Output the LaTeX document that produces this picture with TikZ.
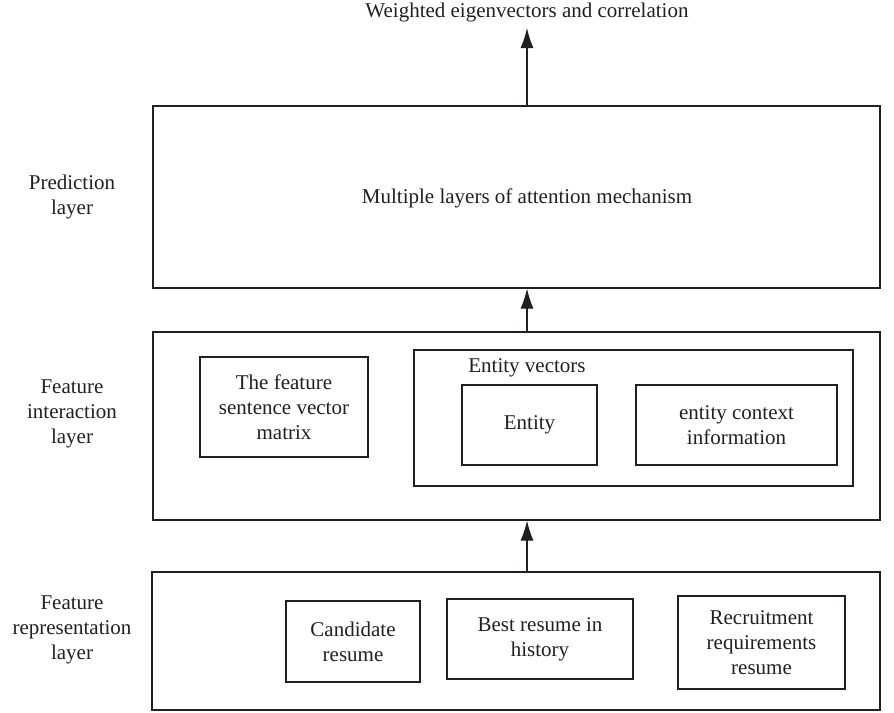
\documentclass[tikz,border=0pt]{standalone}
\usepackage{fontspec}
\setmainfont{Liberation Serif}
\usetikzlibrary{arrows.meta}
\definecolor{ink}{HTML}{231F20}

\begin{document}
\begin{tikzpicture}[x=0.5pt, y=-0.5pt,
  every node/.style={font=\fontsize{10.5}{12.5}\selectfont, text=ink, align=center},
  layerbox/.style={draw=ink, line width=0.6pt, inner sep=0pt, minimum width=363.5pt},
  itembox/.style={draw=ink, line width=0.6pt, inner sep=2pt},
  flow/.style={draw=ink, line width=0.6pt, -{Latex[length=10pt, width=6.5pt]}}]

  \useasboundingbox (0, 0) rectangle (894, 712);

  %% three layers
  \node[layerbox, minimum height=91pt] (pred) at (516.5, 197) {};
  \node[layerbox, minimum height=94pt] (inter) at (516.5, 426) {};
  \node[layerbox, minimum height=69pt, minimum width=364pt] (repr) at (516, 641) {};

  %% layer names
  \node (predname) at (72, 197) {Prediction\\layer};
  \node (intername) at (72, 414) {Feature\\interaction\\layer};
  \node (reprname) at (72, 630) {Feature\\representation\\layer};

  %% prediction layer
  \node (title) at (527, 12) {Weighted eigenvectors and correlation};
  \node (attn) at (527, 198) {Multiple layers of attention mechanism};
  \coordinate (out) at (527, 28);

  %% interaction layer
  \node[itembox, minimum width=84pt, minimum height=50pt] (sent) at (284, 407)
    {The feature\\sentence vector\\matrix};
  \node[itembox, minimum width=219.5pt, minimum height=68pt] (entvec) at (633.5, 418) {};
  \node (entvecname) at (527, 368) {Entity vectors};
  \node[itembox, minimum width=67.5pt, minimum height=40pt] (entity) at (529.5, 425) {Entity};
  \node[itembox, minimum width=100.5pt, minimum height=40pt] (context) at (736.5, 425)
    {entity context\\information};

  %% representation layer
  \node[itembox, minimum width=67pt, minimum height=40.5pt] (cand) at (353, 641.5)
    {Candidate\\resume};
  \node[itembox, minimum width=93pt, minimum height=40pt] (best) at (540, 639)
    {Best resume in\\history};
  \node[itembox, minimum width=83.5pt, minimum height=46.5pt] (recruit) at (761.5, 642.5)
    {Recruitment\\requirements\\resume};

  %% upward flow
  \draw[flow] (repr.north -| title) -- (inter.south -| title);
  \draw[flow] (inter.north -| title) -- (pred.south -| title);
  \draw[flow] (pred.north -| title) -- (out);

\end{tikzpicture}
\end{document}
